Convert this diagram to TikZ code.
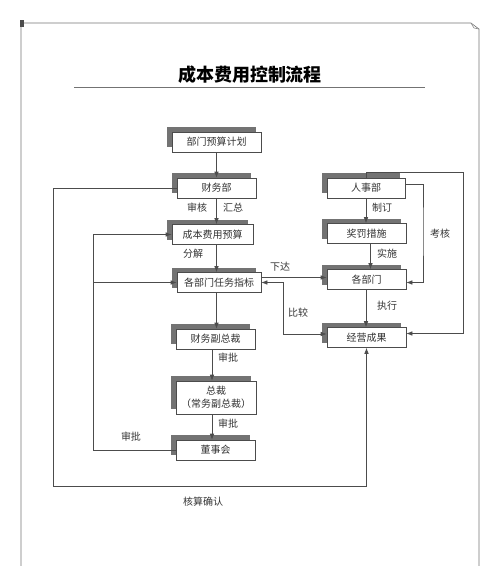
\documentclass[tikz,border=0pt]{standalone}
\usepackage{fontspec}
\setmainfont{Noto Sans CJK SC}
\usepackage{tikz}
\usetikzlibrary{arrows.meta,positioning,calc,shadows}

\begin{document}
\begin{tikzpicture}[
    x=1pt, y=-1pt,
    line width=0.6pt,
    stage/.style={
        rectangle, % shape
        minimum width = 80pt,
        minimum height = 20pt, %size
        inner sep = 1pt,
        draw = black!70, %border
        fill = white,
        drop shadow = {shadow xshift=-5pt, shadow yshift=5pt, fill=black!55, opacity=1},
        text = black!80,
        font=\fontsize{10}{13}\selectfont %font
      },
    tag/.style={
        inner sep=1pt,
        text=black!80,
        font=\fontsize{10}{12}\selectfont},
    flow/.style={draw=black!70, -{Latex[length=6pt,width=4.5pt]}},
    flowboth/.style={draw=black!70, {Latex[length=6pt,width=4.5pt]}-{Latex[length=6pt,width=4.5pt]}}
  ]
  \useasboundingbox (0,0) rectangle (500,566);
  % page frame
  \draw[black!55] (21,566) -- (21,23) -- (471,23) -- (479,29) -- (479,566);
  \draw[black!45] (471,23) -- (474,28) -- (479,29);
  \fill[black!70] (20,20) rectangle (24,27);
  % title
  \node (title) at (250,75) {\fontsize{18}{20}\selectfont\bfseries 成本费用控制流程};
  \draw[black!55] (74,87) -- (425,87);

  % left column
  \node (plan) [stage, minimum width=89pt] at (216.5,142) {部门预算计划};
  \node (fin) [stage, minimum width=79pt] at (216.5,188) {财务部};
  \node (budget) [stage, minimum width=81pt] at (212.5,234.5) {成本费用预算};
  \node (task) [stage, minimum width=84pt] at (219,282.5) {各部门任务指标};
  \node (vp) [stage, minimum width=79pt] at (215.5,339) {财务副总裁};
  \node (ceo) [stage, minimum height=33pt, align=center] at (216,397.5) {总裁\\（常务副总裁）};
  \node (board) [stage, minimum width=79pt] at (215.5,450) {董事会};

  % right column
  \node (hr) [stage, minimum width=78pt] at (366,188) {人事部};
  \node (reward) [stage, minimum width=79pt] at (366.5,233.5) {奖罚措施};
  \node (dept) [stage, minimum width=79pt] at (366.5,279.5) {各部门};
  \node (result) [stage, minimum width=79pt] at (366.5,337.5) {经营成果};

  % helper corners
  \coordinate (loopL) at (93,450);
  \coordinate (loopB) at (53,486);
  \coordinate (cmp) at (283,334);
  \coordinate (chk) at (423,230);
  \coordinate (loopR) at (463,172);

  % main flow
  \draw[flow] (plan) -- (fin);
  \draw[flow] (fin) -- (budget.north -| fin.south);
  \draw[flow] (budget.south -| fin.south) -- (task.north -| fin.south);
  \draw[flow] (task.south -| plan.south) -- (vp.north -| plan.south);
  \draw[flow] ($(vp.south)+(-3.5,0)$) -- ($(ceo.north)+(-4,0)$);
  \draw[flow] ($(ceo.south)+(-4,0)$) -- ($(board.north)+(-3.5,0)$);
  \draw[flow] (hr) -- (reward.north -| hr.south);
  \draw[flow] ($(reward.south)+(4,0)$) -- ($(dept.north)+(4,0)$);
  \draw[flow] (dept.south -| hr.south) -- (result.north -| hr.south);

  % loops
  \draw[flow] (board.west) -- (loopL) |- (budget.west);
  \draw[flow] (loopL |- task.west) -- (task.west);
  \draw[flow] (fin.west) -| (loopB) -| (result.south);
  \draw[flow] ([yshift=5pt]task.east) -- ([yshift=5pt]task.east -| dept.west);
  \draw[flowboth] (task.east) -| (cmp) -- (cmp -| result.west);
  \draw[flow] ([yshift=4pt]hr.east) -| (chk) |- ([yshift=-3pt]dept.east);
  \draw[flow] (hr.north) |- (loopR) |- ([yshift=4pt]result.east);

  % labels
  \node[tag] (lbShen) at (197,208) {审核};
  \node[tag] (lbHui) at (233,208) {汇总};
  \node[tag] (lbFen) at (193,254) {分解};
  \node[tag] (lbPi1) at (228,358) {审批};
  \node[tag] (lbPi2) at (228,424) {审批};
  \node[tag] (lbPi3) at (131,437) {审批};
  \node[tag] (lbHe) at (203,502) {核算确认};
  \node[tag] (lbXia) at (280,267) {下达};
  \node[tag] (lbBi) at (298,313) {比较};
  \node[tag] (lbZhi) at (382,208) {制订};
  \node[tag] (lbShi) at (387,254) {实施};
  \node[tag] (lbZx) at (387,306) {执行};
  \node[tag] (lbKao) at (440,234) {考核};
\end{tikzpicture}
\end{document}
